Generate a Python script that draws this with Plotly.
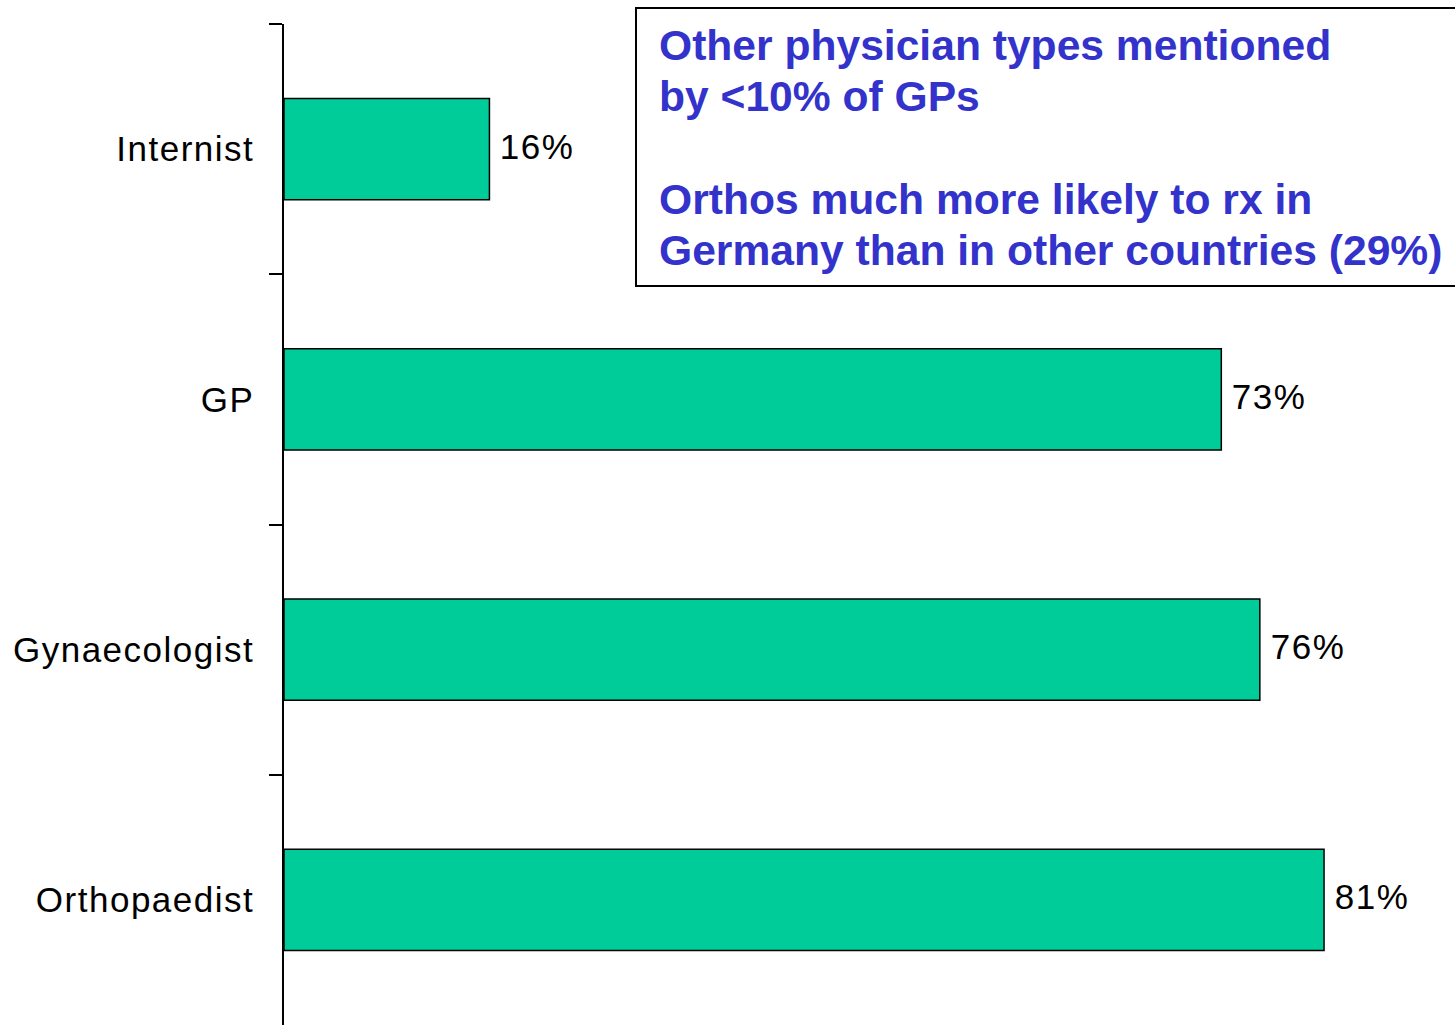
import plotly.graph_objects as go

# Share of GPs naming each physician type
categories = ["Internist", "GP", "Gynaecologist", "Orthopaedist"]
values = [16, 73, 76, 81]
value_labels = ["16%", "73%", "76%", "81%"]

note_lines = [
    "Other physician types mentioned",
    "by <10% of GPs",
    "Orthos much more likely to rx in",
    "Germany than in other countries (29%)",
]

W, H = 1455, 1025
ML, MR, MT, MB = 284, 0, 24, 0
PW, PH = W - ML - MR, H - MT - MB
px_per_unit = 12.84
FONT = "Liberation Sans, Arial, sans-serif"


def px_x(x):
    return (x - ML) / PW


def px_y(y):
    return 1 - (y - MT) / PH


fig = go.Figure(
    go.Bar(
        x=values,
        y=categories,
        orientation="h",
        marker=dict(color="#00CC99", line=dict(color="black", width=1.5)),
        width=0.404,
        hoverinfo="skip",
    )
)

# value labels just right of each bar
for cat, v, lab in zip(categories, values, value_labels):
    fig.add_annotation(
        x=v, y=cat, xref="x", yref="y", text=lab, showarrow=False,
        xanchor="left", yanchor="middle", xshift=11, yshift=3,
        font=dict(family=FONT, size=35, color="black"),
    )

# boxed note in the top right
fig.add_shape(
    type="rect", xref="paper", yref="paper",
    x0=px_x(636), x1=px_x(1470), y0=px_y(286), y1=px_y(8),
    line=dict(color="black", width=2), fillcolor="white", layer="above",
)
baselines = [62, 113, 216, 267]
for line, b in zip(note_lines, baselines):
    fig.add_annotation(
        x=px_x(657), y=px_y(b + 9), xref="paper", yref="paper",
        text=f"<b>{line.replace('<', '&lt;')}</b>", showarrow=False,
        xanchor="left", yanchor="bottom",
        font=dict(family=FONT, size=42.6, color="#3333CC"),
    )

fig.update_layout(
    width=W, height=H,
    margin=dict(l=ML, r=MR, t=MT, b=MB),
    paper_bgcolor="white", plot_bgcolor="white",
    showlegend=False,
    bargap=0.6,
    xaxis=dict(visible=False, range=[0, PW / px_per_unit], fixedrange=True),
    yaxis=dict(
        categoryorder="array", categoryarray=categories,
        autorange="reversed",
        showline=True, linecolor="black", linewidth=1.5,
        ticks="outside", tickson="boundaries", ticklen=13,
        tickcolor="black", tickwidth=1.5,
        tickfont=dict(family=FONT, size=35, color="black"),
        ticklabelstandoff=21,
        showgrid=False, zeroline=False,
    ),
)

# slightly tracked-out lettering for category and value labels
spacing_js = """
var gd = document.getElementById('{plot_id}');
function track() {
  gd.querySelectorAll('.ytick text').forEach(function (t) {
    t.style.letterSpacing = '1.5px';
  });
  [0, 1, 2, 3].forEach(function (i) {
    gd.querySelectorAll('g.annotation[data-index="' + i + '"] text').forEach(function (t) {
      t.style.letterSpacing = '1.5px';
    });
  });
}
track();
setTimeout(track, 50);
if (gd.on) { gd.on('plotly_afterplot', track); }
"""

fig.write_html("out.html", post_script=spacing_js)
